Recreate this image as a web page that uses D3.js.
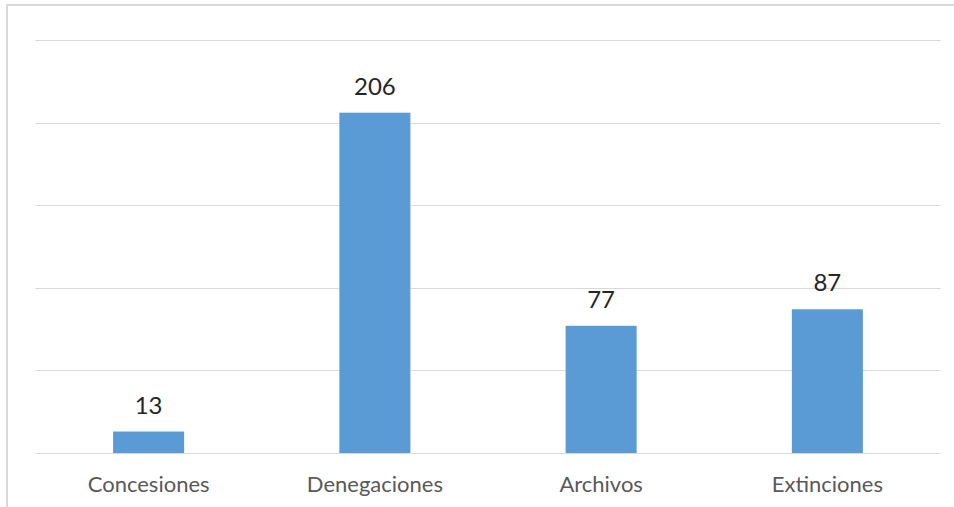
<!DOCTYPE html>
<html>
<head>
<meta charset="utf-8">
<script src="https://cdn.jsdelivr.net/npm/d3@7"></script>
<style>
  body { margin: 0; background: #fff; }
  svg { display: block; }
</style>
</head>
<body>
<div id="chart"></div>
<script>
const categories = ['Concesiones', 'Denegaciones', 'Archivos', 'Extinciones'];
const values = [13, 206, 77, 87];
const yTicks = [0, 50, 100, 150, 200, 250];

const width = 954, height = 507;
const plot = {left: 35.5, right: 940.5, top: 40, bottom: 453};

let svg = d3.select('#chart').append('svg')
  .attr('width', width)
  .attr('height', height);

// chart frame (cut off on right and bottom like the screenshot)
svg.append('rect')
  .attr('x', 7).attr('y', 5)
  .attr('width', width + 20).attr('height', height + 20)
  .attr('fill', '#fff')
  .attr('stroke', '#d9d9d9')
  .attr('stroke-width', 2);

let x = d3.scaleBand()
  .domain(categories)
  .range([plot.left, plot.right])
  .paddingInner(0.686)
  .paddingOuter(0.343);

let y = d3.scaleLinear()
  .domain([0, 250])
  .range([plot.bottom, plot.top]);

// gridlines
svg.append('g')
  .selectAll('line')
  .data(yTicks)
  .enter().append('line')
  .attr('x1', plot.left)
  .attr('x2', plot.right)
  .attr('y1', d => Math.round(y(d)) + 0.5)
  .attr('y2', d => Math.round(y(d)) + 0.5)
  .attr('stroke', '#d9d9d9')
  .attr('stroke-width', 1);

// bars
svg.append('g')
  .selectAll('rect')
  .data(values)
  .enter().append('rect')
  .attr('x', (d, i) => x(categories[i]))
  .attr('width', x.bandwidth())
  .attr('y', d => y(d))
  .attr('height', d => y(0) - y(d))
  .attr('fill', '#5b9bd5');

// value labels
svg.append('g')
  .selectAll('text')
  .data(values)
  .enter().append('text')
  .attr('x', (d, i) => x(categories[i]) + x.bandwidth() / 2)
  .attr('y', d => y(d) - 18)
  .attr('text-anchor', 'middle')
  .style('font-family', 'Lato, "Open Sans", sans-serif')
  .style('font-size', '24px')
  .style('fill', '#262626')
  .text(d => d);

// category labels
let xAxis = d3.axisBottom(x).tickSize(0).tickPadding(0);
let gx = svg.append('g')
  .attr('transform', 'translate(0,' + plot.bottom + ')')
  .call(xAxis);
gx.select('.domain').remove();
gx.selectAll('text')
  .attr('dy', null)
  .attr('y', 39)
  .style('font-family', 'Lato, "Open Sans", sans-serif')
  .style('font-size', '22px')
  .style('fill', '#595959');
</script>
</body>
</html>
